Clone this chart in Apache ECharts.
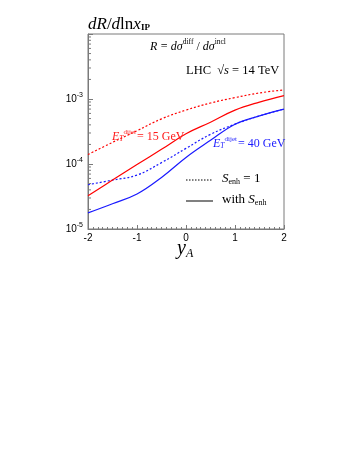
<!DOCTYPE html>
<html>
<head>
<meta charset="utf-8">
<script src="https://cdn.jsdelivr.net/npm/echarts@6/dist/echarts.min.js"></script>
<style>
html,body{margin:0;padding:0;background:#fff;}
#chart{width:358px;height:463px;}
</style>
</head>
<body>
<div id="chart"></div>
<script>
// rapidity y_A
const yA = [-2, -1.5, -1, -0.5, 0, 0.5, 1, 1.5, 2];
// E_T^dijet = 15 GeV
const red15NoEnh = [1.40e-4, 2.15e-4, 3.25e-4, 4.95e-4, 6.75e-4, 8.67e-4, 1.05e-3, 1.24e-3, 1.38e-3];
const red15WithEnh = [3.25e-5, 5.65e-5, 9.8e-5, 1.68e-4, 2.92e-4, 4.4e-4, 6.75e-4, 8.97e-4, 1.13e-3];
// E_T^dijet = 40 GeV
const blue40NoEnh = [4.8e-5, 5.65e-5, 6.75e-5, 1.05e-4, 1.74e-4, 2.86e-4, 4.1e-4, 5.5e-4, 7.0e-4];
const blue40WithEnh = [1.77e-5, 2.45e-5, 3.45e-5, 6.2e-5, 1.26e-4, 2.31e-4, 4.1e-4, 5.5e-4, 7.0e-4];
// axes
const xTicks = [-2, -1, 0, 1, 2];
const yMajorTicks = [1e-5, 1e-4, 1e-3, 1e-2];
const yMinorTicks = [];
for (const d of [1e-5, 1e-4, 1e-3]) for (let k = 2; k <= 9; k++) yMinorTicks.push(k * d);

const pair = arr => yA.map((x, i) => [x, arr[i]]);
const serif = 'Liberation Serif';
const sans = 'Liberation Sans';
const axisCol = '#7a7a7a';

const chart = echarts.init(document.getElementById('chart'));
chart.setOption({
  animation: false,
  backgroundColor: '#fff',
  grid: {left: 88, right: 74, top: 34, bottom: 234, show: true, borderColor: axisCol, borderWidth: 1, containLabel: false},
  xAxis: {
    type: 'value', min: xTicks[0], max: xTicks[xTicks.length - 1], interval: 1,
    axisLine: {onZero: false, lineStyle: {color: axisCol}},
    axisTick: {inside: true, length: 4, lineStyle: {color: axisCol}},
    minorTick: {show: true, splitNumber: 10, length: 2, lineStyle: {color: axisCol}},
    splitLine: {show: false},
    axisLabel: {color: '#000', fontFamily: sans, fontSize: 10, margin: 4, formatter: v => (v < 0 ? '-' + (-v) : '' + v)}
  },
  yAxis: {
    type: 'log', logBase: 10, min: yMajorTicks[0], max: yMajorTicks[yMajorTicks.length - 1],
    axisLine: {onZero: false, lineStyle: {color: axisCol}},
    axisTick: {inside: true, length: 5, lineStyle: {color: axisCol}},
    splitLine: {show: false},
    axisLabel: {
      color: '#000', fontFamily: sans, fontSize: 10, margin: 5,
      formatter: v => {
        const e = Math.round(Math.log10(v));
        if (e >= -2) return '';
        return '10{sup|' + e + '}';
      },
      rich: {sup: {fontSize: 7, fontFamily: sans, padding: [0, 0, 8, 0]}}
    }
  },
  series: [
    {
      type: 'custom', silent: true, clip: false, z: 5,
      data: yMinorTicks.map(v => [xTicks[0], v]),
      renderItem: (params, api) => {
        const p = api.coord([api.value(0), api.value(1)]);
        return {type: 'line', shape: {x1: p[0], y1: p[1], x2: p[0] + 3, y2: p[1]}, style: {stroke: axisCol, lineWidth: 1}};
      }
    },
    {type: 'line', data: pair(red15NoEnh), smooth: 0.4, symbol: 'none', lineStyle: {color: '#ff0000', width: 1.2, type: [2, 2]}, z: 3},
    {type: 'line', data: pair(blue40NoEnh), smooth: 0.4, symbol: 'none', lineStyle: {color: '#1a1aff', width: 1.2, type: [2, 2]}, z: 2},
    {type: 'line', data: pair(red15WithEnh), smooth: 0.4, symbol: 'none', lineStyle: {color: '#ff0000', width: 1.2}, z: 3},
    {type: 'line', data: pair(blue40WithEnh), smooth: 0.4, symbol: 'none', lineStyle: {color: '#1a1aff', width: 1.2}, z: 3}
  ],
  graphic: [
    {type: 'text', left: 88, top: 16, z: 10, style: {
      text: '{i|dR}{r|/}{i|d}{r|ln}{i|x}{s|IP}',
      rich: {
        i: {fontFamily: serif, fontStyle: 'italic', fontSize: 17, fill: '#000'},
        r: {fontFamily: serif, fontSize: 17, fill: '#000'},
        s: {fontFamily: serif, fontSize: 9, fontWeight: 'bold', fill: '#000', padding: [7, 0, 0, 0]}
      }}},
    {type: 'text', left: 150, top: 38, z: 10, style: {
      text: '{i|R} {r|=} {i|dσ}{s|diff}{r| / }{i|dσ}{s|incl}',
      rich: {
        i: {fontFamily: serif, fontStyle: 'italic', fontSize: 12, fill: '#000'},
        r: {fontFamily: serif, fontSize: 12, fill: '#000'},
        s: {fontFamily: serif, fontSize: 7.5, fill: '#000', padding: [0, 0, 9, 0]}
      }}},
    {type: 'text', left: 186, top: 64, z: 10, style: {
      text: '{r|LHC  √}{i|s}{r| = 14 TeV}',
      rich: {
        i: {fontFamily: serif, fontStyle: 'italic', fontSize: 12.5, fill: '#000'},
        r: {fontFamily: serif, fontSize: 12.5, fill: '#000'}
      }}},
    {type: 'text', left: 112, top: 129, z: 10, style: {
      text: '{i|E}{s|T}{u|dijet}{r|= 15 GeV}',
      rich: {
        i: {fontFamily: serif, fontStyle: 'italic', fontSize: 12, fill: '#ff1a1a'},
        r: {fontFamily: serif, fontSize: 12, fill: '#ff1a1a'},
        s: {fontFamily: serif, fontStyle: 'italic', fontSize: 7.5, fill: '#ff1a1a', padding: [6, 0, 0, 0]},
        u: {fontFamily: serif, fontSize: 7, fill: '#ff1a1a', padding: [0, 1, 8, 0]}
      }}},
    {type: 'text', left: 213, top: 136, z: 10, style: {
      text: '{i|E}{s|T}{u|dijet}{r|= 40 GeV}',
      rich: {
        i: {fontFamily: serif, fontStyle: 'italic', fontSize: 12, fill: '#1a1aff'},
        r: {fontFamily: serif, fontSize: 12, fill: '#1a1aff'},
        s: {fontFamily: serif, fontStyle: 'italic', fontSize: 7.5, fill: '#1a1aff', padding: [6, 0, 0, 0]},
        u: {fontFamily: serif, fontSize: 7, fill: '#1a1aff', padding: [0, 1, 8, 0]}
      }}},
    {type: 'line', z: 10, shape: {x1: 186, y1: 180, x2: 213, y2: 180}, style: {stroke: '#000', lineWidth: 1, lineDash: [1.5, 1.5]}},
    {type: 'text', left: 222, top: 172, z: 10, style: {
      text: '{i|S}{s|enh}{r| = 1}',
      rich: {
        i: {fontFamily: serif, fontStyle: 'italic', fontSize: 13, fill: '#000'},
        r: {fontFamily: serif, fontSize: 13, fill: '#000'},
        s: {fontFamily: serif, fontSize: 8, fill: '#000', padding: [6, 0, 0, 0]}
      }}},
    {type: 'line', z: 10, shape: {x1: 186, y1: 201, x2: 213, y2: 201}, style: {stroke: '#808080', lineWidth: 2}},
    {type: 'text', left: 222, top: 193, z: 10, style: {
      text: '{r|with }{i|S}{s|enh}',
      rich: {
        i: {fontFamily: serif, fontStyle: 'italic', fontSize: 13, fill: '#000'},
        r: {fontFamily: serif, fontSize: 13, fill: '#000'},
        s: {fontFamily: serif, fontSize: 8, fill: '#000', padding: [6, 0, 0, 0]}
      }}},
    {type: 'text', left: 177, top: 239, z: 10, style: {
      text: '{i|y}{s|A}',
      rich: {
        i: {fontFamily: serif, fontStyle: 'italic', fontSize: 20, fill: '#000'},
        s: {fontFamily: serif, fontStyle: 'italic', fontSize: 12, fill: '#000', padding: [9, 0, 0, 0]}
      }}}
  ]
});
</script>
</body>
</html>
